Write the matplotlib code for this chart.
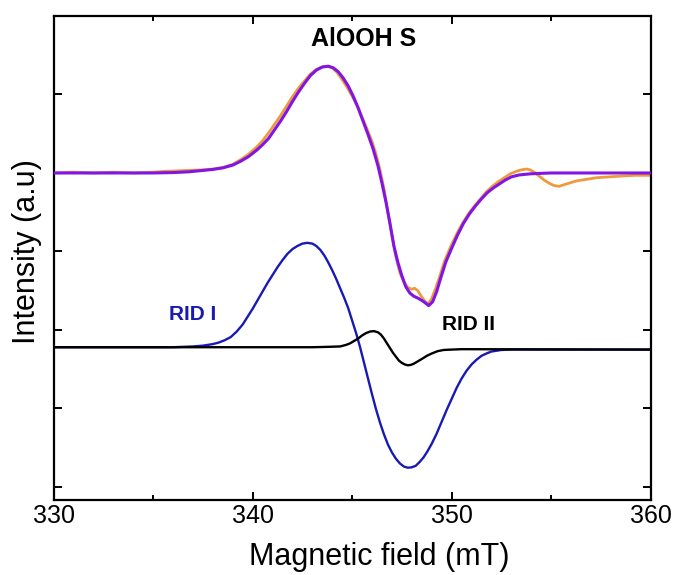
import matplotlib
matplotlib.use("Agg")
import matplotlib.pyplot as plt

plt.rcParams['font.family'] = ['Liberation Sans', 'DejaVu Sans']

# ---- data (field in mT, intensity in arbitrary units) ----
exp_field = [330.0, 331.0, 332.0, 333.0, 334.0, 335.0, 335.5, 336.0, 336.5, 337.0, 337.5, 338.0,
             338.5, 339.0, 339.4, 339.8, 340.2, 340.5, 340.8, 341.1, 341.4, 341.7, 342.0, 342.3,
             342.6, 342.9, 343.2, 343.5, 343.75, 344.0, 344.25, 344.5, 344.75, 345.0, 345.25, 345.5,
             345.75, 346.0, 346.2, 346.4, 346.6, 346.8, 347.0, 347.2, 347.4, 347.6, 347.8, 348.0,
             348.15, 348.3, 348.5, 348.7, 348.85, 349.0, 349.2, 349.4, 349.65, 349.95, 350.25, 350.55,
             350.85, 351.15, 351.45, 351.75, 352.05, 352.35, 352.65, 352.95, 353.25, 353.5, 353.75,
             353.95, 354.15, 354.4, 354.65, 354.9, 355.15, 355.4, 355.65, 355.9, 356.3, 356.8, 357.3,
             357.9, 358.5, 359.2, 360.0]
exp_int = [4.00, 4.01, 4.00, 4.01, 4.00, 4.01, 4.02, 4.025, 4.03, 4.035, 4.04, 4.05,
           4.07, 4.11, 4.17, 4.24, 4.33, 4.41, 4.51, 4.62, 4.73, 4.85, 4.97, 5.08,
           5.17, 5.26, 5.32, 5.35, 5.36, 5.34, 5.28, 5.19, 5.09, 4.98, 4.86, 4.71,
           4.56, 4.40, 4.24, 4.04, 3.80, 3.50, 3.20, 2.93, 2.73, 2.61, 2.54, 2.52,
           2.53, 2.50, 2.42, 2.35, 2.34, 2.40, 2.53, 2.68, 2.88, 3.06, 3.22, 3.36,
           3.48, 3.58, 3.67, 3.76, 3.83, 3.89, 3.94, 3.99, 4.02, 4.04, 4.05,
           4.04, 4.01, 3.96, 3.91, 3.87, 3.84, 3.83, 3.85, 3.87, 3.90, 3.92, 3.94,
           3.95, 3.96, 3.97, 3.97]

fit_field = [330.0, 335.0, 336.0, 336.8, 337.4, 338.0, 338.5, 339.0, 339.4, 339.8, 340.2, 340.5,
             340.8, 341.1, 341.4, 341.7, 342.0, 342.3, 342.6, 342.9, 343.2, 343.5, 343.8, 344.05,
             344.3, 344.55, 344.8, 345.05, 345.3, 345.55, 345.8, 346.05, 346.3, 346.5, 346.7, 346.9,
             347.1, 347.3, 347.5, 347.7, 347.9, 348.1, 348.35, 348.6, 348.85, 349.05, 349.25, 349.45,
             349.7, 350.0, 350.3, 350.6, 350.9, 351.2, 351.5, 351.8, 352.1, 352.4, 352.7, 353.0,
             353.4, 354.0, 355.0, 360.0]
fit_int = [4.00, 4.00, 4.005, 4.015, 4.03, 4.045, 4.065, 4.10, 4.15, 4.21, 4.29, 4.36,
           4.44, 4.55, 4.66, 4.78, 4.91, 5.03, 5.14, 5.24, 5.31, 5.35, 5.36, 5.34,
           5.29, 5.21, 5.11, 4.98, 4.83, 4.66, 4.49, 4.31, 4.09, 3.87, 3.63, 3.36,
           3.07, 2.86, 2.69, 2.55, 2.47, 2.43, 2.40, 2.36, 2.31, 2.36, 2.49, 2.66,
           2.86, 3.04, 3.21, 3.36, 3.48, 3.58, 3.67, 3.75, 3.81, 3.86, 3.91, 3.95,
           3.975, 3.99, 4.00, 4.00]

rid1_field = [330.0, 336.0, 336.5, 337.0, 337.5, 338.0, 338.3, 338.6, 338.9, 339.2, 339.5, 339.75,
              340.0, 340.25, 340.5, 340.75, 341.0, 341.25, 341.5, 341.75, 342.0, 342.25, 342.5, 342.75,
              343.0, 343.2, 343.4, 343.6, 343.8, 344.0, 344.2, 344.4, 344.6, 344.8, 345.0, 345.2,
              345.4, 345.6, 345.8, 346.0, 346.2, 346.4, 346.6, 346.8, 347.0, 347.2, 347.4, 347.6,
              347.8, 348.0, 348.2, 348.4, 348.6, 348.8, 349.0, 349.25, 349.5, 349.75, 350.0, 350.25,
              350.5, 350.75, 351.0, 351.25, 351.5, 351.75, 352.0, 352.5, 353.0, 360.0]
rid1_int = [1.78, 1.78, 1.785, 1.79, 1.80, 1.82, 1.84, 1.87, 1.91, 1.98, 2.07, 2.17,
            2.27, 2.38, 2.49, 2.60, 2.70, 2.80, 2.89, 2.97, 3.03, 3.07, 3.10, 3.11,
            3.10, 3.07, 3.02, 2.95, 2.86, 2.76, 2.65, 2.53, 2.41, 2.28, 2.12, 1.96,
            1.78, 1.58, 1.38, 1.18, 0.99, 0.82, 0.67, 0.54, 0.44, 0.36, 0.30, 0.26,
            0.245, 0.25, 0.27, 0.32, 0.38, 0.46, 0.55, 0.68, 0.83, 0.98, 1.12, 1.26,
            1.38, 1.48, 1.56, 1.62, 1.67, 1.70, 1.725, 1.745, 1.75, 1.75]

rid2_field = [330.0, 343.0, 343.8, 344.4, 344.7, 344.9, 345.1, 345.3, 345.5, 345.7, 345.9, 346.1,
              346.3, 346.45, 346.6, 346.75, 346.9, 347.05, 347.2, 347.35, 347.5, 347.65, 347.8,
              347.95, 348.1, 348.3, 348.5, 348.75, 349.0, 349.3, 349.6, 350.0, 350.5, 360.0]
rid2_int = [1.78, 1.78, 1.785, 1.79, 1.81, 1.83, 1.86, 1.89, 1.93, 1.96, 1.98, 1.985,
            1.97, 1.94, 1.89, 1.83, 1.77, 1.71, 1.66, 1.61, 1.58, 1.56, 1.55,
            1.555, 1.57, 1.60, 1.63, 1.67, 1.70, 1.73, 1.745, 1.75, 1.755, 1.75]

xticks_major = [330, 340, 350, 360]
xticks_minor = [335, 345, 355]
yticks = [0, 1, 2, 3, 4, 5, 6]

# ---- figure ----
fig = plt.figure(figsize=(6.74, 5.75), dpi=100)
ax = fig.add_axes([0.0797, 0.1313, 0.8855, 0.8409])

ax.plot(exp_field, exp_int, color='#EE9A3A', lw=2.0, zorder=2)
ax.plot(fit_field, fit_int, color='#8214E6', lw=2.2, zorder=3)
ax.plot(rid1_field, rid1_int, color='#1919B4', lw=1.7, zorder=2)
ax.plot(rid2_field, rid2_int, color='black', lw=1.7, zorder=3)

ax.set_xlim(330, 360)
ax.set_ylim(-0.16, 6.0)
ax.set_xticks(xticks_major)
ax.set_xticks(xticks_minor, minor=True)
ax.set_xticklabels([str(t) for t in xticks_major])
ax.set_yticks(yticks)
ax.set_yticklabels([])

ax.tick_params(axis='both', which='both', direction='in', top=True, right=True, width=1.4)
ax.tick_params(axis='both', which='major', length=6)
ax.tick_params(axis='x', which='minor', length=3.6)
ax.tick_params(axis='x', which='major', labelsize=18, pad=3)
for s in ax.spines.values():
    s.set_linewidth(1.6)

ax.text(345.6, 5.71, 'AlOOH S', fontsize=18, fontweight='bold', ha='center', va='center')
ax.text(336.98, 2.20, 'RID I', fontsize=15, fontweight='bold', color='#1919B4', ha='center', va='center')
ax.text(350.87, 2.07, 'RID II', fontsize=15, fontweight='bold', color='black', ha='center', va='center')

fig.text(379 / 674, 1 - 557 / 575, 'Magnetic field (mT)', fontsize=22, ha='center', va='center')
fig.text(27 / 674, 1 - 251.5 / 575, 'Intensity (a.u)', fontsize=22, rotation=90, ha='center', va='center')

fig.savefig('out.png', dpi=100)
